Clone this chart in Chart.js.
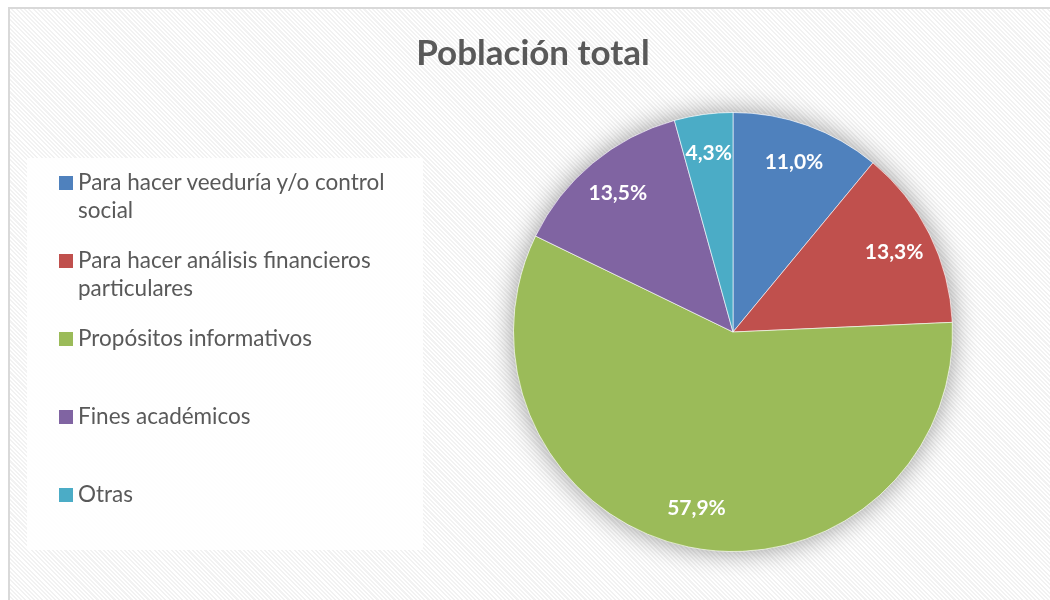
<!DOCTYPE html>
<html>
<head>
<meta charset="utf-8">
<script src="https://cdn.jsdelivr.net/npm/chart.js@4"></script>
<style>
  html, body { margin: 0; padding: 0; width: 1050px; height: 600px; overflow: hidden; background: #fff; }
  #frame {
    position: absolute; left: 8px; top: 7px; width: 1046px; height: 591px;
    border-left: 2px solid #d9d9d9; border-top: 2px solid #d9d9d9;
    background: repeating-linear-gradient(45deg, #ffffff 0 1.5px, #f2f2f2 1.5px 3px);
  }
  #title {
    position: absolute; left: 0; top: 21px; width: 1046px; line-height: 40px;
    text-align: center; font: bold 35px Lato, "Open Sans", sans-serif; color: #595959;
  }
  #legend {
    position: absolute; left: 17px; top: 149px; width: 396px; height: 392px;
    background: rgba(255, 255, 255, 0.88);
  }
  .item { position: absolute; left: 32px; width: 360px; height: 78px; }
  .swatch { position: absolute; left: 0; top: 7px; width: 14px; height: 14px; }
  .label {
    position: absolute; left: 19px; top: -1px; width: 340px;
    font: 22.5px Lato, "Open Sans", sans-serif; line-height: 28px; color: #595959;
  }
  #wrap { position: absolute; left: 0; top: 0; width: 1046px; height: 591px; }
</style>
</head>
<body>
<div id="frame">
  <div id="wrap"><canvas id="pieChart"></canvas></div>
  <div id="title">Población total</div>
  <div id="legend"></div>
</div>
<script>
// Chart data
const categories = [
    'Para hacer veeduría y/o control social',
    'Para hacer análisis financieros particulares',
    'Propósitos informativos',
    'Fines académicos',
    'Otras'
];
const percentages = [11.0, 13.3, 57.9, 13.5, 4.3];
const sliceColors = ['#4F81BD', '#C0504D', '#9BBB59', '#8064A2', '#4BACC6'];

// soft shadow under the whole pie
const pieShadow = {
    id: 'pieShadow',
    beforeDatasetsDraw(chart) {
        const arc = chart.getDatasetMeta(0).data[0];
        if (!arc) return;
        const ctx = chart.ctx;
        ctx.save();
        ctx.shadowColor = 'rgba(0, 0, 0, 0.4)';
        ctx.shadowBlur = 26;
        ctx.beginPath();
        ctx.arc(arc.x, arc.y, arc.outerRadius, 0, Math.PI * 2);
        ctx.fillStyle = '#ffffff';
        ctx.fill();
        ctx.restore();
    }
};

// percentage labels inside slices
const sliceLabels = {
    id: 'sliceLabels',
    afterDatasetsDraw(chart) {
        const ctx = chart.ctx;
        const values = chart.data.datasets[0].data;
        ctx.save();
        ctx.font = 'bold 21px Lato, "Open Sans", sans-serif';
        ctx.fillStyle = '#ffffff';
        ctx.textAlign = 'center';
        ctx.textBaseline = 'middle';
        chart.getDatasetMeta(0).data.forEach((arc, i) => {
            const mid = (arc.startAngle + arc.endAngle) / 2;
            const r = arc.outerRadius * 0.82;
            const text = values[i].toFixed(1).replace('.', ',') + '%';
            ctx.fillText(text, arc.x + Math.cos(mid) * r, arc.y + Math.sin(mid) * r);
        });
        ctx.restore();
    }
};

const chart = new Chart(document.getElementById('pieChart'), {
    type: 'pie',
    data: {
        labels: categories,
        datasets: [{
            data: percentages,
            backgroundColor: sliceColors,
            borderColor: 'rgba(255, 255, 255, 0.6)',
            borderWidth: 1,
            hoverOffset: 0
        }]
    },
    options: {
        responsive: true,
        maintainAspectRatio: false,
        animation: false,
        layout: { padding: { left: 503, right: 103, top: 103, bottom: 48 } },
        plugins: {
            legend: { display: false },
            tooltip: { enabled: false }
        }
    },
    plugins: [pieShadow, sliceLabels]
});

// HTML legend so long labels can wrap
const legendEl = document.getElementById('legend');
chart.options.plugins.legend.labels.generateLabels(chart).forEach((item, i) => {
    const div = document.createElement('div');
    div.className = 'item';
    div.style.top = (11 + i * 78) + 'px';
    div.innerHTML = '<span class="swatch" style="background:' + item.fillStyle + '"></span>' +
        '<span class="label">' + item.text + '</span>';
    legendEl.appendChild(div);
});
</script>
</body>
</html>
